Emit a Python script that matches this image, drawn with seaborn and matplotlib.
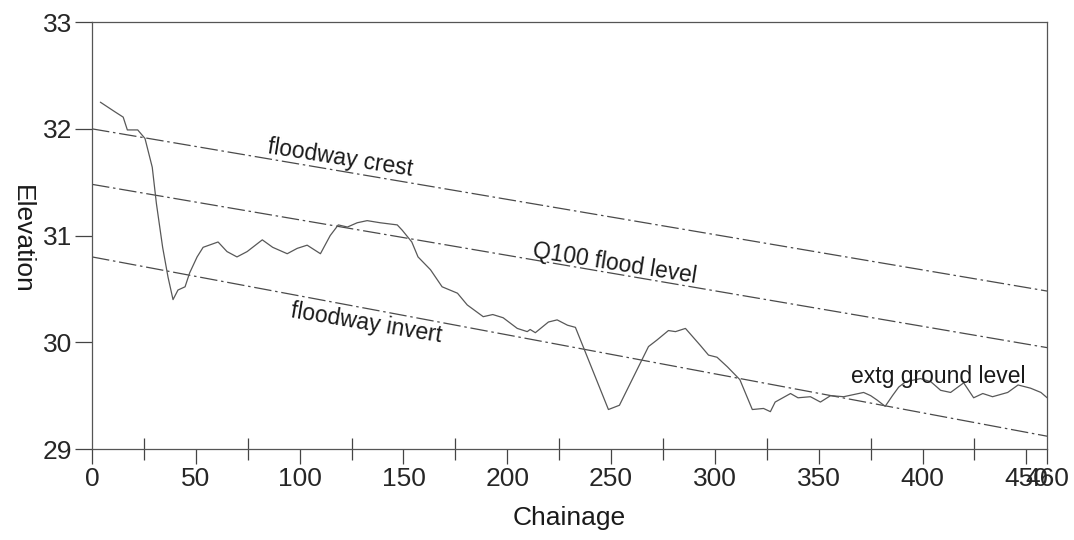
import numpy as np
import pandas as pd
import matplotlib
matplotlib.use("Agg")
import matplotlib.pyplot as plt
from matplotlib import lines as mlines
from matplotlib.ticker import MultipleLocator
import seaborn as sns

# existing ground profile
chainage = [4, 11, 15, 17, 22, 25.5, 29, 31, 34, 36.6, 39, 41.4, 44.8, 47, 50.6,
            53.5, 60.7, 65, 69.8, 74.7, 82, 87, 94, 98.8, 103.6, 110, 114.7, 118.6,
            123, 127.7, 132.5, 138.8, 147, 149.4, 154, 157, 163, 168.6, 176, 180.7,
            188.4, 193, 198, 204.8, 209.6, 211, 213.5, 219.8, 224, 229, 232.8, 248.7,
            254, 268, 272, 277.6, 281, 285.8, 293, 296.9, 301, 306, 312, 318, 323.4,
            326.7, 329, 336.4, 340, 346, 350.8, 355.7, 362, 371.6, 375, 378, 382,
            385.5, 388.5, 391.8, 399, 404, 408.7, 413.5, 419.8, 424.6, 429, 433.7,
            441, 446, 452, 457, 460]
ground = [32.25, 32.16, 32.11, 31.99, 31.99, 31.91, 31.64, 31.30, 30.89, 30.61, 30.40,
          30.49, 30.52, 30.65, 30.80, 30.89, 30.94, 30.85, 30.80, 30.85, 30.96, 30.89,
          30.83, 30.88, 30.91, 30.83, 31.00, 31.10, 31.08, 31.12, 31.14, 31.12, 31.10,
          31.05, 30.94, 30.80, 30.68, 30.52, 30.46, 30.35, 30.24, 30.26, 30.23, 30.13,
          30.10, 30.12, 30.09, 30.19, 30.21, 30.16, 30.14, 29.37, 29.41, 29.96, 30.02,
          30.11, 30.10, 30.13, 29.97, 29.88, 29.86, 29.77, 29.65, 29.37, 29.38, 29.35,
          29.44, 29.52, 29.48, 29.49, 29.44, 29.50, 29.49, 29.53, 29.50, 29.46, 29.40,
          29.50, 29.58, 29.63, 29.66, 29.63, 29.55, 29.53, 29.62, 29.48, 29.52, 29.49,
          29.53, 29.60, 29.57, 29.53, 29.48]

# design grade lines (start / end of reach)
design_chainage = [0, 460]
crest = [32.00, 30.48]
q100 = [31.48, 29.95]
invert = [30.80, 29.12]

xticks = [0, 50, 100, 150, 200, 250, 300, 350, 400, 450, 460]
yticks = [29, 30, 31, 32, 33]

sns.set_theme(style="ticks", rc={"axes.edgecolor": "#555555", "axes.linewidth": 0.9})
plt.rcParams["font.family"] = ["Liberation Sans", "DejaVu Sans"]

ground_df = pd.DataFrame({"Chainage": chainage, "Elevation": ground})
design_df = pd.DataFrame({"Chainage": design_chainage * 3,
                          "Elevation": crest + q100 + invert,
                          "line": ["crest"] * 2 + ["q100"] * 2 + ["invert"] * 2})

fig = plt.figure(figsize=(10.74, 5.4), dpi=100)
ax = fig.add_axes([0.0857, 0.1685, 0.8893, 0.7905])

dashdot = (0, (14, 3, 2, 3))
for name in ["crest", "q100", "invert"]:
    sns.lineplot(data=design_df[design_df["line"] == name], x="Chainage", y="Elevation",
                 ax=ax, color="#4a4a4a", lw=0.9, linestyle=dashdot)
sns.lineplot(data=ground_df, x="Chainage", y="Elevation", ax=ax,
             color="#585858", lw=0.9, sort=False)

ax.set_xlim(0, 460)
ax.set_ylim(29, 33)
ax.set_xticks(xticks)
ax.set_yticks(yticks)
ax.xaxis.set_minor_locator(MultipleLocator(25))
ax.tick_params(axis="x", which="minor", direction="inout", length=16, width=0.9, color="#444444")
ax.tick_params(axis="x", which="major", length=11, width=0.9, color="#444444",
               labelsize=19, pad=2)
ax.tick_params(axis="y", which="major", length=12, width=0.9, color="#444444",
               labelsize=19, pad=2)

ax.set_xlabel("Chainage", fontsize=19, color="#1a1a1a", va="center")
ax.xaxis.set_label_coords(0.50, -0.162)
ax.set_ylabel("Elevation", fontsize=19, color="#1a1a1a", rotation=270,
              va="center", ha="center")
ax.yaxis.set_label_coords(-0.073, 0.49)

lab = dict(fontsize=16.5, color="#1a1a1a", rotation_mode="anchor", ha="left", va="baseline")
ax.text(84.3, 31.77, "floodway crest", rotation=-9, **lab)
ax.text(212, 30.80, "Q100 flood level", rotation=-9, **lab)
ax.text(95.4, 30.24, "floodway invert", rotation=-9.5, **lab)
ax.text(365.3, 29.62, "extg ground level", rotation=0, **lab)

# make sure the major tick marks are really drawn (outward, dark grey)
fig.canvas.draw()
for t in ax.xaxis.get_major_ticks():
    t.tick1line.set_visible(True)
    t.tick1line.set_marker(mlines.TICKDOWN)
    t.tick1line.set_markersize(11)
    t.tick1line.set_markeredgewidth(0.9)
    t.tick1line.set_markeredgecolor("#444444")
    t.tick1line.set_zorder(5)
for t in ax.yaxis.get_major_ticks():
    t.tick1line.set_visible(True)
    t.tick1line.set_marker(mlines.TICKLEFT)
    t.tick1line.set_markersize(12)
    t.tick1line.set_markeredgewidth(0.9)
    t.tick1line.set_markeredgecolor("#444444")
    t.tick1line.set_zorder(5)

fig.savefig("out.png", dpi=100, facecolor="white")
